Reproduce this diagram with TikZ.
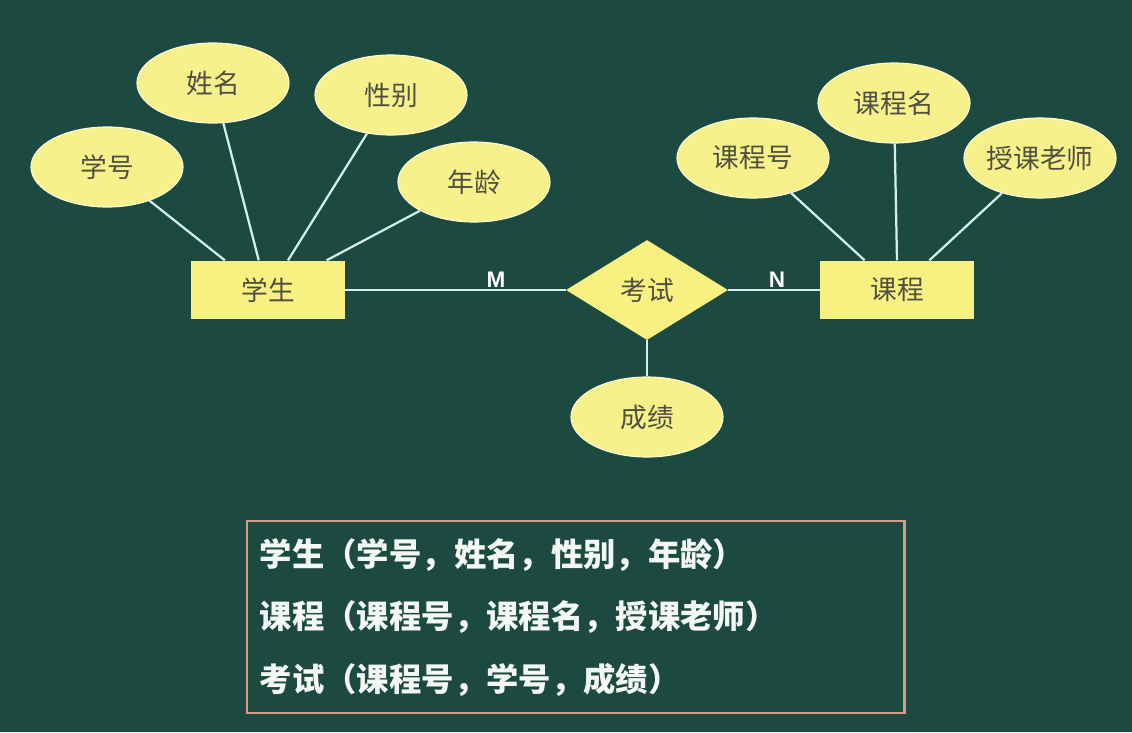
\documentclass[tikz,border=0pt]{standalone}
\usepackage{fontspec}
\setmainfont{Noto Sans CJK SC}
\newfontfamily\cardfont{Liberation Sans}
\usetikzlibrary{calc}
\usetikzlibrary{shapes.geometric}

\definecolor{board}{RGB}{29,74,64}
\definecolor{attrfill}{RGB}{247,241,140}
\definecolor{attredge}{RGB}{250,250,215}
\definecolor{entfill}{RGB}{248,240,128}
\definecolor{inktext}{RGB}{80,80,64}
\definecolor{linkc}{RGB}{212,238,240}
\definecolor{boxedge}{RGB}{214,156,136}
\definecolor{rowtext}{RGB}{244,248,244}

\begin{document}
\begin{tikzpicture}[x=0.025cm, y=-0.025cm,
		attr/.style={ellipse, draw=attredge, line width=0.8pt, fill=attrfill, minimum width=3.8cm, minimum height=2cm, inner sep=0pt, text=inktext, font=\fontsize{19}{19}\selectfont},
		ent/.style={rectangle, fill=entfill, minimum width=3.84cm, minimum height=1.47cm, text=inktext, font=\fontsize{19}{19}\selectfont},
		rel/.style={diamond, fill=entfill, aspect=1.62, minimum width=4.05cm, minimum height=2.5cm, inner sep=0pt, text=inktext, font=\fontsize{19}{19}\selectfont},
		link/.style={draw=linkc, line width=1.6pt},
		card/.style={text=white, font=\cardfont\bfseries\fontsize{16}{16}\selectfont, inner sep=1pt, anchor=south},
		row/.style={anchor=west, text=rowtext, font=\bfseries\fontsize{23}{23}\selectfont}]
			\fill[board] (0,0) rectangle (1132,732);
			
			% student side
			\node[ent] (stu) at (268,290) {学生};
			\node[attr] (sa1) at (107,167) {学号};
			\node[attr] (sa2) at (213,83) {姓名};
			\node[attr] (sa3) at (391,95) {性别};
			\node[attr] (sa4) at (474,182) {年龄};
			
			% course side
			\node[ent] (crs) at (897,290) {课程};
			\node[attr] (ca1) at (753,158) {课程号};
			\node[attr] (ca2) at (894,103) {课程名};
			\node[attr] (ca3) at (1040,158) {授课老师};
			
			% relationship
			\node[rel] (exam) at (647,290) {考试};
			\node[attr] (grade) at (647,417) {成绩};
			
			\draw[link] (sa1) -- ($(stu.north west)!0.22!(stu.north east)$);
			\draw[link] (sa2) -- ($(stu.north west)!0.44!(stu.north east)$);
			\draw[link] (sa3) -- ($(stu.north west)!0.63!(stu.north east)$);
			\draw[link] (sa4) -- ($(stu.north west)!0.88!(stu.north east)$);
			\draw[link] (ca1) -- ($(crs.north west)!0.29!(crs.north east)$);
			\draw[link] (ca2) -- (crs.north);
			\draw[link] (ca3) -- ($(crs.north west)!0.71!(crs.north east)$);
			\draw[link] (stu.east) -- (exam.west);
			\draw[link] (exam.east) -- (crs.west);
			\draw[link] (exam.south) -- (grade);
			
			\node[card] (m) at (496,289) {M};
			\node[card] (n) at (777,289) {N};
			
			% relation schemas
			\node[draw=boxedge, line width=1.6pt, minimum width=16.43cm, minimum height=4.8cm, anchor=north west, inner sep=0pt] (schema) at (246,520) {};
			\node[row] (r1) at (255,555) {学生（学号，姓名，性别，年龄）};
			\node[row] (r2) at (255,617) {课程（课程号，课程名，授课老师）};
			\node[row] (r3) at (255,680) {考试（课程号，学号，成绩）};
		\end{tikzpicture}
\end{document}
